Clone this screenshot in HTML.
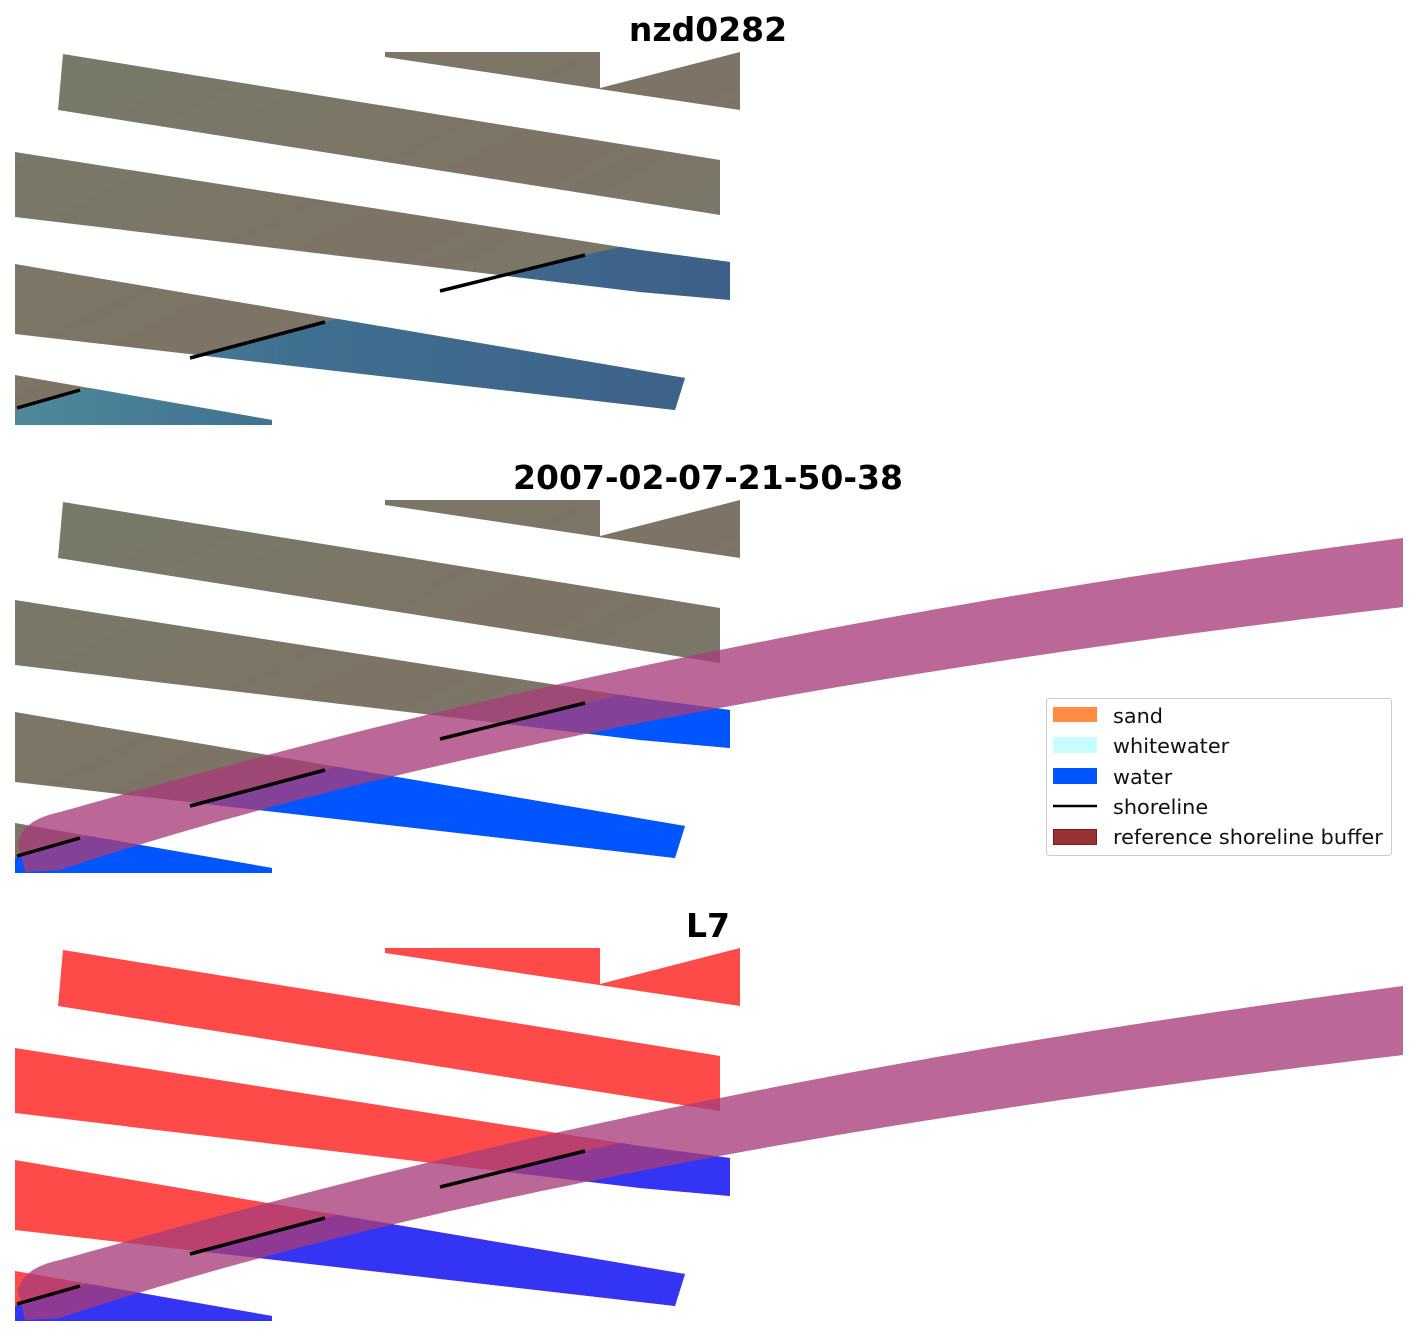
<!DOCTYPE html>
<html><head><meta charset="utf-8"><style>
html,body{margin:0;padding:0;background:#fff;}
svg{display:block;}
</style></head><body>
<svg width="1417" height="1337" viewBox="0 0 1417 1337" xmlns="http://www.w3.org/2000/svg" font-family="DejaVu Sans, Liberation Sans, sans-serif">
<defs>
<clipPath id="st">
<polygon points="385,52 600,52 600,88 740,52 740,110 385,57"/>
<polygon points="63,54 720,160 720,215 58,110"/>
<polygon points="15,152 640,250 730,262 730,300 640,292 15,217"/>
<polygon points="15,264 685,378 675,410 15,334"/>
<polygon points="15,375 272,420 272,425 15,425"/>
</clipPath>
<clipPath id="wat"><polygon points="15,410 80,390 190,358 325,322 440,290 585,255 760,215 760,430 15,430"/></clipPath>
<linearGradient id="lg1" x1="0" y1="0" x2="1" y2="1">
<stop offset="0" stop-color="#767b6a"/><stop offset="0.5" stop-color="#7e7466"/><stop offset="1" stop-color="#727b6e"/></linearGradient>
<linearGradient id="wg" x1="0" y1="0" x2="1" y2="0">
<stop offset="0" stop-color="#4f8a9a"/><stop offset="0.4" stop-color="#3f6f90"/><stop offset="1" stop-color="#3d5f88"/></linearGradient>
</defs>

<text x="708" y="41" text-anchor="middle" font-size="33" font-weight="bold">nzd0282</text>
<text x="708" y="489" text-anchor="middle" font-size="33" font-weight="bold">2007-02-07-21-50-38</text>
<text x="708" y="937" text-anchor="middle" font-size="33" font-weight="bold">L7</text>

<!-- panel 1 -->
<g clip-path="url(#st)">
<rect x="0" y="40" width="760" height="400" fill="url(#lg1)"/>
<rect x="0" y="40" width="760" height="400" fill="url(#wg)" clip-path="url(#wat)"/>
</g>
<g fill="none" stroke="#000" stroke-width="3.5">
<polyline points="17,408 80,390"/><polyline points="190,358 325,322"/><polyline points="440,291 585,255"/>
</g>

<!-- panel 2 -->
<g transform="translate(0,448)">
<g clip-path="url(#st)">
<rect x="0" y="40" width="760" height="400" fill="url(#lg1)"/>
<rect x="0" y="40" width="760" height="400" fill="#0055ff" clip-path="url(#wat)"/>
</g>
<path d="M18,395 Q22,372 60,364 C300,297 700,182 1403,90 L1403,159 C700,242 300,342 60,422 L25,424 Z" fill="#a83c7a" fill-opacity="0.78"/>
<g fill="none" stroke="#000" stroke-width="3.5">
<polyline points="17,408 80,390"/><polyline points="190,358 325,322"/><polyline points="440,291 585,255"/>
</g>
</g>

<!-- panel 3 -->
<g transform="translate(0,896)">
<g clip-path="url(#st)">
<rect x="0" y="40" width="760" height="400" fill="#ff4a4a"/>
<rect x="0" y="40" width="760" height="400" fill="#3434f4" clip-path="url(#wat)"/>
</g>
<path d="M18,395 Q22,372 60,364 C300,297 700,182 1403,90 L1403,159 C700,242 300,342 60,422 L25,424 Z" fill="#a83c7a" fill-opacity="0.78"/>
<g fill="none" stroke="#000" stroke-width="3.5">
<polyline points="17,408 80,390"/><polyline points="190,358 325,322"/><polyline points="440,291 585,255"/>
</g>
</g>

<!-- legend -->
<rect x="1046.5" y="698.5" width="345" height="157" rx="3" fill="#fff" stroke="#ccc" stroke-width="1"/>
<rect x="1053" y="707" width="44" height="15" fill="#ff8c40"/>
<rect x="1053" y="737" width="44" height="16" fill="#c8fdfd"/>
<rect x="1053" y="768" width="44" height="16" fill="#0055ff"/>
<line x1="1053" y1="806" x2="1097" y2="806" stroke="#000" stroke-width="2.5"/>
<rect x="1053.5" y="829.5" width="43" height="15" fill="#993333" stroke="#7a1a1a"/>
<g font-size="20.8" fill="#111">
<text x="1113" y="723">sand</text>
<text x="1113" y="753">whitewater</text>
<text x="1113" y="784">water</text>
<text x="1113" y="814">shoreline</text>
<text x="1113" y="844">reference shoreline buffer</text>
</g>
</svg>
</body></html>
